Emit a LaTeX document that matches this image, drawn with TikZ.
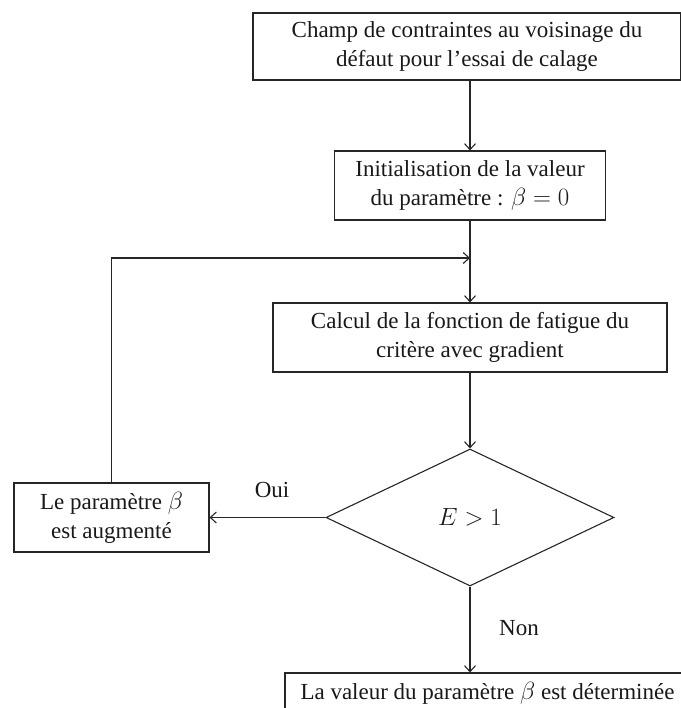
\documentclass[tikz,border=0pt]{standalone}
\usepackage{fontspec}
\setmainfont{Liberation Serif}
\usetikzlibrary{arrows.meta,shapes.geometric}
\begin{document}
\begin{tikzpicture}[x=1pt,y=-1pt,
  every node/.style={font=\fontsize{23}{29}\selectfont, text=black!90},
  box/.style={draw=black!85, line width=1.1pt, align=center, inner sep=0pt, rectangle},
  dec/.style={draw=black!85, line width=1.1pt, diamond, inner sep=0pt, minimum width=288pt, minimum height=137pt, aspect=2.1},
  arr/.style={draw=black!85, line width=1.1pt, -{Straight Barb[length=6pt,width=11pt,line width=1.1pt]}},
  lbl/.style={inner sep=0pt}]
\useasboundingbox (0,0) rectangle (680,708);
\node[box, minimum width=428pt, minimum height=67pt] (b1) at (467,46.5) {Champ de contraintes au voisinage du\\ défaut pour l’essai de calage};
\node[box, minimum width=271pt, minimum height=69pt] (b2) at (470,185.5) {Initialisation de la valeur\\ du paramètre : $\beta = 0$};
\node[box, minimum width=394pt, minimum height=69pt] (b3) at (470,337.5) {Calcul de la fonction de fatigue du\\ critère avec gradient};
\node[dec] (d) at (470,517.5) {$E > 1$};
\node[box, minimum width=195pt, minimum height=69pt] (l) at (111.5,517.5) {Le paramètre $\beta$\\ est augmenté};
\node[box, minimum width=405pt, minimum height=40pt] (f) at (487.5,693) {La valeur du paramètre $\beta$ est déterminée};
\coordinate (j) at (470,258);
\node[lbl] (oui) at (272,490) {Oui};
\node[lbl] (non) at (519,628) {Non};
\draw[arr] (b1.south -| b2.north) -- (b2.north);
\draw[arr] (b2.south) -- (b3.north);
\draw[arr] (b3.south) -- (d.north);
\draw[arr] (d.west) -- (l.east);
\draw[arr] (l.north) |- (j);
\draw[arr] (d.south) -- (d.south |- f.north);
\end{tikzpicture}
\end{document}
